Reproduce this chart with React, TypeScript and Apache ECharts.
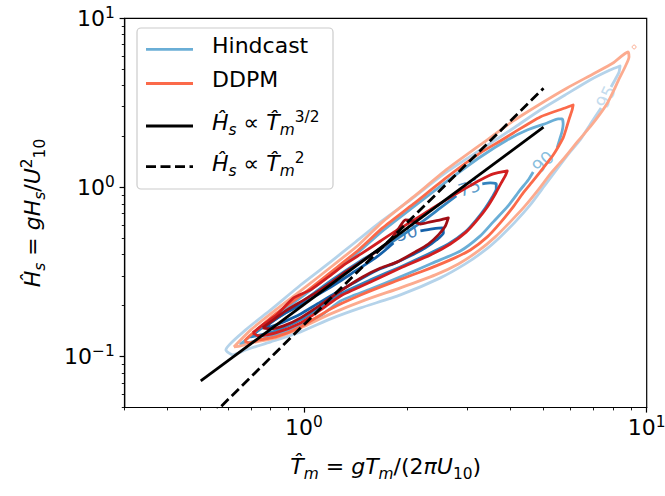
import React, { useEffect, useRef } from "react";
import * as echarts from "echarts";

const FONT = "DejaVu Sans";

// ---------- axes ----------
const xRange = [0.3, 10];
const yRange = [0.05, 10];
const xMajorTicks = [1, 10];
const xMinorTicks = [0.3, 0.4, 0.5, 0.6, 0.7, 0.8, 0.9, 2, 3, 4, 5, 6, 7, 8, 9];
const yMajorTicks = [0.1, 1, 10];
const yMinorTicks = [0.05, 0.06, 0.07, 0.08, 0.09, 0.2, 0.3, 0.4, 0.5, 0.6, 0.7, 0.8, 0.9, 2, 3, 4, 5, 6, 7, 8, 9];

// ---------- contours (Tm_hat, Hs_hat) ----------
const hindcast95 = [
  [7.36, 2.95], [6.883, 2.406], [6.393, 1.909], [5.979, 1.621], [5.591, 1.358], [5.056, 1.035], [4.572, 0.788],
  [4.135, 0.626], [3.739, 0.51], [3.382, 0.427], [2.957, 0.353], [2.501, 0.292], [1.912, 0.2315], [1.463, 0.194],
  [1.196, 0.1671], [0.978, 0.1399], [0.8, 0.1221], [0.676, 0.1095], [0.62, 0.1023], [0.592, 0.1095], [0.676, 0.1438],
  [0.8, 0.1888], [0.978, 0.265], [1.196, 0.363], [1.414, 0.476], [1.673, 0.626], [2.045, 0.844], [2.586, 1.219],
  [3.27, 1.666], [4.135, 2.278], [4.89, 2.871], [5.782, 3.522], [6.837, 4.319], [7.818, 4.948], [8.36, 5.225],
  [8.305, 4.815], [8.138, 4.438], [7.871, 3.927],
];
const ddpm95 = [
  [0.6246, 0.114], [0.7, 0.1438], [0.827, 0.1888], [1.012, 0.258], [1.22, 0.348], [1.443, 0.457], [1.696, 0.626],
  [2.087, 0.879], [2.621, 1.286], [3.27, 1.784], [4.079, 2.472], [4.89, 3.116], [5.86, 3.874], [6.976, 4.686],
  [7.977, 5.443], [8.82, 6.321], [8.879, 5.906], [8.645, 5.155], [8.305, 4.378], [8.03, 3.77], [7.713, 3.202],
  [7.311, 2.72], [6.837, 2.278], [6.308, 1.883], [5.782, 1.514], [5.264, 1.219], [4.825, 0.967], [4.392, 0.767],
  [3.998, 0.626], [3.616, 0.51], [3.226, 0.421], [2.822, 0.353], [2.418, 0.304], [1.912, 0.255], [1.512, 0.2163],
  [1.196, 0.1788], [0.978, 0.1478], [0.827, 0.129], [0.7, 0.1204], [0.654, 0.1156],
];
const ddpm95Dot = [[9.061, 6.767], [9.183, 6.954], [9.307, 6.767], [9.183, 6.585]];
const hindcast90 = [
  [4.665, 1.235], [4.511, 1.107], [4.276, 0.967], [3.919, 0.767], [3.568, 0.626], [3.27, 0.517], [2.86, 0.421],
  [2.338, 0.353], [1.912, 0.296], [1.564, 0.251], [1.279, 0.2134], [1.118, 0.174], [0.978, 0.1539], [0.827, 0.1343],
  [0.723, 0.1238], [0.654, 0.1188], [0.7, 0.1325], [0.827, 0.174], [1.012, 0.2347], [1.22, 0.3163], [1.443, 0.4155],
  [1.696, 0.5534], [2.087, 0.767], [2.621, 1.092], [3.27, 1.514], [3.919, 1.909], [4.481, 2.187], [5.124, 2.406],
  [5.517, 2.54], [5.667, 2.54], [5.705, 2.373], [5.667, 2.157], [5.591, 1.962], [5.48, 1.712],
];
const ddpm90 = [
  [0.671, 0.1238], [0.7, 0.1343], [0.827, 0.1788], [1.012, 0.2413], [1.22, 0.325], [1.443, 0.427], [1.696, 0.5765],
  [2.087, 0.7988], [2.621, 1.154], [3.27, 1.599], [3.739, 1.883], [4.079, 2.1], [4.89, 2.611], [5.782, 2.95],
  [6.1, 3.074], [6.06, 2.871], [5.939, 2.54], [5.821, 2.217], [5.705, 1.962], [5.517, 1.736], [5.335, 1.556],
  [5.124, 1.396], [4.89, 1.235], [4.634, 1.077], [4.362, 0.928], [4.079, 0.767], [3.739, 0.617], [3.428, 0.51],
  [3.058, 0.427], [2.674, 0.373], [2.187, 0.316], [1.788, 0.272], [1.463, 0.2315], [1.196, 0.1914], [0.978, 0.1498],
  [0.827, 0.1307], [0.738, 0.1255], [0.695, 0.1204],
];
const hindcast75 = [
  [3.314, 1.049], [3.497, 1.064], [3.64, 1.049], [3.64, 0.98], [3.544, 0.879], [3.382, 0.756], [3.183, 0.643],
  [2.957, 0.546], [2.638, 0.463], [2.307, 0.404], [1.912, 0.339], [1.564, 0.284], [1.279, 0.2347], [1.118, 0.1967],
  [0.978, 0.1648], [0.827, 0.1419], [0.748, 0.1343], [0.7, 0.1307], [0.748, 0.1458], [0.855, 0.174],
  [0.978, 0.2077], [1.196, 0.2802], [1.463, 0.368], [1.788, 0.4696], [2.187, 0.6166], [2.501, 0.7564], [2.784, 0.8908],
];
const ddpm75 = [
  [0.7095, 0.138], [0.758, 0.1539], [0.833, 0.1764], [0.933, 0.2223], [1.046, 0.248], [1.18, 0.2958], [1.322, 0.3528],
  [1.483, 0.41], [1.673, 0.4824], [1.874, 0.561], [2.1, 0.643], [2.354, 0.746], [2.656, 0.867], [2.977, 0.994],
  [3.27, 1.107], [3.568, 1.202], [3.919, 1.252], [3.867, 1.17], [3.764, 1.064], [3.616, 0.915], [3.428, 0.767],
  [3.205, 0.643], [2.977, 0.546], [2.674, 0.463], [2.338, 0.399], [1.912, 0.334], [1.564, 0.276], [1.279, 0.2284],
  [1.118, 0.1888], [0.978, 0.1582], [0.827, 0.138], [0.738, 0.1325],
];
const ddpm50 = [
  [0.758, 0.1478], [0.8, 0.1604], [0.884, 0.1862], [0.978, 0.2105], [1.082, 0.2379], [1.196, 0.2723], [1.322, 0.3163],
  [1.483, 0.368], [1.65, 0.427], [1.788, 0.489], [1.887, 0.5687], [1.977, 0.643], [2.073, 0.6343], [2.187, 0.608],
  [2.338, 0.626], [2.501, 0.643], [2.638, 0.661], [2.586, 0.592], [2.468, 0.524], [2.307, 0.463], [2.114, 0.416],
  [1.874, 0.363], [1.673, 0.334], [1.483, 0.2958], [1.279, 0.2447], [1.118, 0.2021], [0.978, 0.1694], [0.872, 0.1518],
  [0.8, 0.1458],
];
const hindcast50 = [
  [2.187, 0.553], [2.37, 0.569], [2.535, 0.577], [2.552, 0.538], [2.434, 0.489], [2.261, 0.439], [2.045, 0.394],
  [1.849, 0.358], [1.617, 0.321], [1.414, 0.2764], [1.237, 0.2379], [1.082, 0.2021], [0.978, 0.1788], [0.872, 0.1604],
  [0.8, 0.1498], [0.769, 0.1478], [0.8, 0.1582], [0.884, 0.1813], [0.978, 0.2021], [1.082, 0.2284], [1.237, 0.2686],
  [1.414, 0.321], [1.617, 0.3833], [1.729, 0.427], [1.824, 0.4696],
];

// reference power laws (end points)
const solidLine = [[0.5, 0.0718], [5, 2.27]];
const dashedLine = [[0.5, 0.0386], [5, 3.86]];

// contour labels
const labelTexts = ["95", "90", "75", "50"];
const labelPositions = [[7.61, 3.427], [4.989, 1.415], [3.038, 0.994], [1.99, 0.538]];
const labelRotations = [64, 45, 18, 15];

// ---------- styles ----------
const BLUES = { c95: "#b5d3ea", c90: "#6aaed6", c75: "#3383be", c50: "#1561a9" };
const REDS = { c95: "#fcab8f", c90: "#fb6a4a", c75: "#d21f20", c50: "#a00e15" };
const LW = 2.8;
const BASE = 22;
const SMALL = 15.4;

const lg = (p: number[][]) => p.map(([x, y]) => [Math.log10(x), Math.log10(y)]);
const closed = (p: number[][]) => p.concat([p[0]]);

function mathRich(fill = "#000") {
  const base = { fontSize: BASE, fontFamily: FONT, lineHeight: 22, verticalAlign: "bottom", padding: [0, 0, 4, 0], fill, color: fill };
  const small = { fontSize: SMALL, fontFamily: FONT, lineHeight: 16, verticalAlign: "bottom", fill, color: fill };
  return {
    r: { ...base },
    i: { ...base, fontStyle: "italic" },
    sub: { ...small, padding: [0, 0, 0, 0] },
    isub: { ...small, fontStyle: "italic", padding: [0, 0, 0, 0] },
    sup: { ...small, padding: [0, 0, 13, 0] },
  };
}
function tickRich() {
  return {
    b: { fontSize: BASE, fontFamily: FONT, lineHeight: 22, verticalAlign: "bottom", color: "#000" },
    s: { fontSize: SMALL, fontFamily: FONT, lineHeight: 16, verticalAlign: "bottom", padding: [0, 0, 9, 0], color: "#000" },
  };
}

function tickLabel(v: number) {
  const e = Math.round(v);
  return `{b|10}{s|${e < 0 ? "\u2212" + -e : e}}`;
}

function buildOption() {
  const lineSeries = (data: number[][], color: string, width = LW, dash?: number[], smooth = 0) => ({
    type: "line",
    data: lg(data),
    symbol: "none",
    showSymbol: false,
    silent: true,
    clip: true,
    smooth,
    lineStyle: { color, width, type: dash ? dash : "solid", cap: "butt", join: "round" },
    itemStyle: { color },
  });
  const contour = (data: number[][], color: string) => lineSeries(data, color, LW, undefined, 0.2);

  const series: any[] = [
    contour(hindcast95, BLUES.c95),
    contour(hindcast90, BLUES.c90),
    contour(hindcast75, BLUES.c75),
    contour(hindcast50, BLUES.c50),
    contour(closed(ddpm95), REDS.c95),
    lineSeries(closed(ddpm95Dot), REDS.c95, 1, undefined, 0.5),
    contour(closed(ddpm90), REDS.c90),
    contour(closed(ddpm75), REDS.c75),
    contour(closed(ddpm50), REDS.c50),
    lineSeries(solidLine, "#000", 2.8),
    lineSeries(dashedLine, "#000", 2.8, [10, 4.5]),
    {
      type: "scatter",
      silent: true,
      symbolSize: 1,
      itemStyle: { color: "rgba(0,0,0,0)" },
      data: labelTexts.map((t, i) => ({
        value: [Math.log10(labelPositions[i][0]), Math.log10(labelPositions[i][1])],
        label: {
          show: true,
          position: "inside",
          formatter: t,
          rotate: labelRotations[i],
          color: [BLUES.c95, BLUES.c90, BLUES.c75, BLUES.c50][i],
          fontSize: 17.5,
          fontFamily: FONT,
        },
      })),
    },
  ];

  const axisCommon = (range: number[]) => ({
    type: "value",
    gridIndex: 0,
    min: Math.log10(range[0]),
    max: Math.log10(range[1]),
    splitLine: { show: false },
  });

  const xAxis = [
    {
      ...axisCommon(xRange),
      position: "bottom",
      axisLine: { show: true, onZero: false, lineStyle: { color: "#000", width: 1.2 } },
      axisTick: { show: true, inside: false, length: 5.1, lineStyle: { color: "#000", width: 1.2 }, customValues: xMajorTicks.map(Math.log10) },
      axisLabel: { show: true, margin: 9, customValues: xMajorTicks.map(Math.log10), formatter: tickLabel, rich: tickRich() },
    },
    {
      ...axisCommon(xRange),
      position: "bottom",
      axisLine: { show: false, onZero: false },
      axisTick: { show: true, inside: false, length: 2.9, lineStyle: { color: "#000", width: 0.9 }, customValues: xMinorTicks.map(Math.log10) },
      axisLabel: { show: false },
    },
  ];
  const yAxis = [
    {
      ...axisCommon(yRange),
      position: "left",
      axisLine: { show: true, onZero: false, lineStyle: { color: "#000", width: 1.2 } },
      axisTick: { show: true, inside: false, length: 5.1, lineStyle: { color: "#000", width: 1.2 }, customValues: yMajorTicks.map(Math.log10) },
      axisLabel: { show: true, margin: 10, customValues: yMajorTicks.map(Math.log10), formatter: tickLabel, rich: tickRich() },
    },
    {
      ...axisCommon(yRange),
      position: "left",
      axisLine: { show: false, onZero: false },
      axisTick: { show: true, inside: false, length: 2.9, lineStyle: { color: "#000", width: 0.9 }, customValues: yMinorTicks.map(Math.log10) },
      axisLabel: { show: false },
    },
  ];

  const rich = mathRich();
  const txt = (x: number, y: number, text: string, extra: any = {}) => ({
    type: "text",
    x,
    y,
    z: 101,
    silent: true,
    ...extra,
    style: {
      text,
      rich,
      fill: "#000",
      fontSize: BASE,
      fontFamily: FONT,
      align: extra.align || "left",
      textAlign: extra.align || "left",
      verticalAlign: "middle",
      textVerticalAlign: "middle",
    },
  });

  const legendRows = [49.3, 83.5, 126, 166.7];
  const lx1 = 146;
  const lx2 = 193;
  const tx = 212;

  const graphic = [
    {
      type: "rect",
      z: 100,
      silent: true,
      shape: { x: 137, y: 28, width: 196, height: 161, r: 4 },
      style: { fill: "rgba(255,255,255,0.8)", stroke: "#cccccc", lineWidth: 1.2 },
    },
    { type: "line", z: 101, silent: true, shape: { x1: lx1, y1: legendRows[0], x2: lx2, y2: legendRows[0] }, style: { stroke: BLUES.c90, lineWidth: LW } },
    { type: "line", z: 101, silent: true, shape: { x1: lx1, y1: legendRows[1], x2: lx2, y2: legendRows[1] }, style: { stroke: REDS.c90, lineWidth: LW } },
    { type: "line", z: 101, silent: true, shape: { x1: lx1, y1: legendRows[2], x2: lx2, y2: legendRows[2] }, style: { stroke: "#000", lineWidth: 2.8 } },
    { type: "line", z: 101, silent: true, shape: { x1: lx1, y1: legendRows[3], x2: lx2, y2: legendRows[3] }, style: { stroke: "#000", lineWidth: 2.8, lineDash: [10, 4.5] } },
    txt(tx, legendRows[0], "{r|Hindcast}"),
    txt(tx, legendRows[1], "{r|DDPM}"),
    txt(tx, legendRows[2] + 0.5, "{i|\u0124}{isub|s}{r| \u221d }{i|T\u0302}{isub|m}{sup|3/2}"),
    txt(tx, legendRows[3] + 0.5, "{i|\u0124}{isub|s}{r| \u221d }{i|T\u0302}{isub|m}{sup|2}"),
    // axis titles
    txt(385.7, 470, "{i|T\u0302}{isub|m}{r| = }{i|gT}{isub|m}{r|/(2}{i|\u03c0U}{sub|10}{r|)}", { align: "center" }),
    txt(36, 213, "{i|\u0124}{isub|s}{r| = }{i|gH}{isub|s}{r|/}{i|U}{sup|2}{sub|10}", { align: "center", rotation: Math.PI / 2 }),
  ];

  return {
    animation: false,
    backgroundColor: "#ffffff",
    textStyle: { fontFamily: FONT },
    grid: {
      left: 124.7,
      right: 18.3,
      top: 18.3,
      bottom: 88.5,
      show: true,
      borderColor: "#000",
      borderWidth: 1.2,
      backgroundColor: "transparent",
      containLabel: false,
      outerBoundsMode: "none",
    },
    xAxis,
    yAxis,
    series,
    graphic,
  };
}

export default function App() {
  const ref = useRef<HTMLDivElement>(null);
  useEffect(() => {
    if (!ref.current) return;
    const chart = echarts.init(ref.current, null, { renderer: "svg" });
    chart.setOption(buildOption() as any);
    return () => chart.dispose();
  }, []);
  return (
    <div
      ref={ref}
      style={{ position: "fixed", left: 0, top: 0, width: 665, height: 496, background: "#fff" }}
    />
  );
}
